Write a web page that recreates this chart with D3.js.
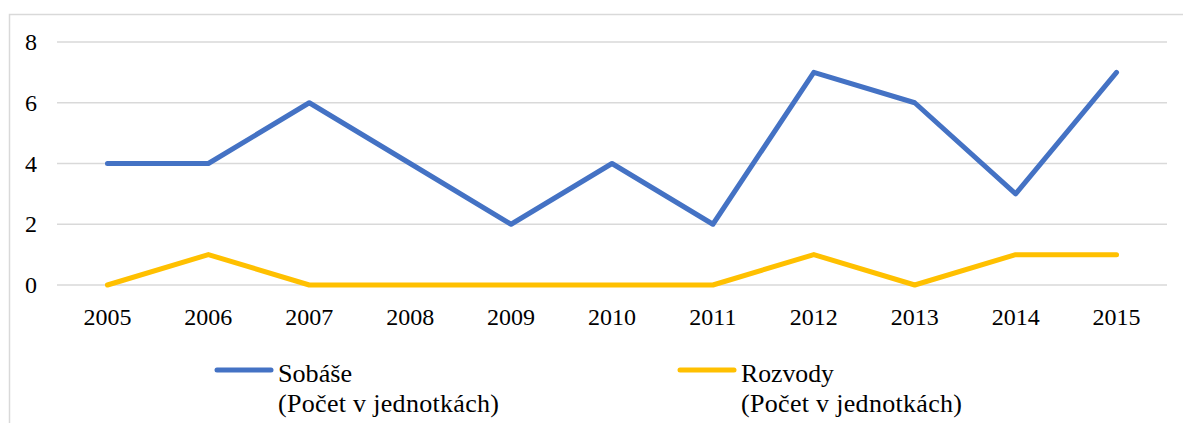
<!DOCTYPE html>
<html>
<head>
<script src="https://cdn.jsdelivr.net/npm/d3@7"></script>
</head>
<body style="margin:0;overflow:hidden">
<script>
// Data
const years = ["2005", "2006", "2007", "2008", "2009", "2010", "2011", "2012", "2013", "2014", "2015"];
const sobase = [4, 4, 6, 4, 2, 4, 2, 7, 6, 3, 7];
const rozvody = [0, 1, 0, 0, 0, 0, 0, 1, 0, 1, 1];
const yTicks = [0, 2, 4, 6, 8];
const seriesNames = ["Sobáše", "Rozvody"];
const seriesSub = "(Počet v jednotkách)";
const colors = ["#4472C4", "#FFC000"];

const W = 1183, H = 423;
const plotLeft = 57, plotRight = 1167, plotTop = 42, plotBottom = 285;
const font = "'Liberation Serif'";

const svg = d3.select("body").append("svg")
  .attr("width", W)
  .attr("height", H)
  .style("display", "block")
  .style("font-family", font);

// outer chart border
svg.append("rect")
  .attr("x", 9.5).attr("y", 14.5)
  .attr("width", W).attr("height", H)
  .attr("fill", "none")
  .attr("stroke", "#d9d9d9")
  .attr("stroke-width", 1.5);

const x = d3.scaleBand().domain(years).range([plotLeft, plotRight]);
const y = d3.scaleLinear().domain([0, 8]).range([plotBottom, plotTop]);

// gridlines
svg.append("g")
  .selectAll("line")
  .data(yTicks)
  .enter()
  .append("line")
  .attr("x1", plotLeft).attr("x2", plotRight)
  .attr("y1", d => y(d)).attr("y2", d => y(d))
  .attr("stroke", "#d9d9d9")
  .attr("stroke-width", 1.5);

// y labels
svg.append("g")
  .selectAll("text")
  .data(yTicks)
  .enter()
  .append("text")
  .attr("x", 37)
  .attr("y", d => y(d) + 8)
  .attr("text-anchor", "end")
  .style("font-family", font)
  .attr("font-size", 24)
  .text(d => d);

// x labels
svg.append("g")
  .selectAll("text")
  .data(years)
  .enter()
  .append("text")
  .attr("x", d => x(d) + x.bandwidth() / 2)
  .attr("y", 325)
  .attr("text-anchor", "middle")
  .style("font-family", font)
  .attr("font-size", 24)
  .text(d => d);

const line = d3.line()
  .x((d, i) => x(years[i]) + x.bandwidth() / 2)
  .y(d => y(d));

// draw series (blue first, yellow on top)
[sobase, rozvody].forEach((vals, k) => {
  svg.append("path")
    .attr("d", line(vals))
    .attr("fill", "none")
    .attr("stroke", colors[k])
    .attr("stroke-width", 5)
    .attr("stroke-linecap", "round")
    .attr("stroke-linejoin", "round");
});

// legend
const legendX = [217, 680];
const nameWidths = [74, 93];
seriesNames.forEach((name, k) => {
  const g = svg.append("g").attr("transform", `translate(${legendX[k]},0)`);
  g.append("line")
    .attr("x1", 0).attr("x2", 54)
    .attr("y1", 370).attr("y2", 370)
    .attr("stroke", colors[k])
    .attr("stroke-width", 5)
    .attr("stroke-linecap", "round");
  g.append("text")
    .attr("x", 61).attr("y", 382)
    .attr("textLength", nameWidths[k])
    .attr("lengthAdjust", "spacingAndGlyphs")
    .style("font-family", font)
    .attr("font-size", 26)
    .text(name);
  g.append("text")
    .attr("x", 61).attr("y", 412)
    .attr("textLength", 221)
    .attr("lengthAdjust", "spacing")
    .style("font-family", font)
    .attr("font-size", 26)
    .text(seriesSub);
});
</script>
</body>
</html>
